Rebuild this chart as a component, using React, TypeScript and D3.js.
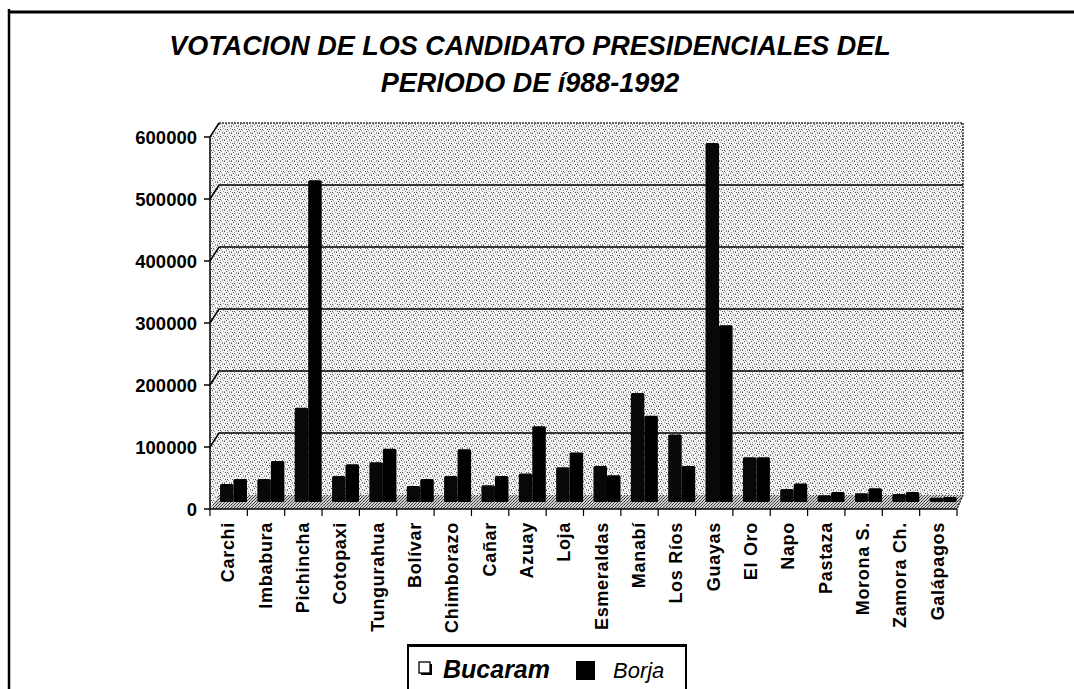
import React from "react";
import * as d3 from "d3";

const provinces = [
  "Carchi", "Imbabura", "Pichincha", "Cotopaxi", "Tungurahua", "Bolívar",
  "Chimborazo", "Cañar", "Azuay", "Loja", "Esmeraldas", "Manabí",
  "Los Ríos", "Guayas", "El Oro", "Napo", "Pastaza", "Morona S.",
  "Zamora Ch.", "Galápagos",
];
const series = ["Bucaram", "Borja"];
const bucaram = [
  29000, 37000, 152000, 42000, 64000, 26000, 42000, 27000, 46000, 56000,
  58000, 176000, 109000, 579000, 72000, 21000, 11000, 14000, 13000, 7000,
];
const borja = [
  37000, 66000, 519000, 61000, 86000, 37000, 85000, 42000, 122000, 80000,
  43000, 139000, 58000, 285000, 72000, 30000, 16000, 22000, 16000, 8000,
];
const yTicks = [0, 100000, 200000, 300000, 400000, 500000, 600000];
const titleLines = [
  "VOTACION DE LOS CANDIDATO PRESIDENCIALES DEL",
  "PERIODO DE í988-1992",
];

const W = 1074;
const H = 689;
const FONT = "'Liberation Sans', Arial, sans-serif";

// 3d depth offset of the back wall
const DX = 9;
const DY = -14;

// stipple dots for the halftone background (pattern cell 7x7)
const dots = [
  [0, 0], [3, 1], [5, 0], [1, 3], [4, 4], [6, 2], [2, 5], [5, 6], [0, 6], [3, 3],
];

export default function App() {
  const x = d3.scaleBand<string>().domain(provinces).range([210, 957]);
  const xs = d3.scaleBand<string>().domain(series).range([0, 27]);
  const yFront = d3.scaleLinear().domain([0, 600000]).range([509, 137]);
  const yBar = d3.scaleLinear().domain([0, 600000]).range([502, 130]);

  const x0 = 210;
  const x1 = 957;
  const top = yFront(600000);
  const base = yFront(0);

  const rows = provinces.map((p, i) => ({ p, vals: [bucaram[i], borja[i]] }));

  return (
    <svg
      width={W}
      height={H}
      style={{ position: "absolute", left: 0, top: 0, background: "#fff" }}
    >
      <defs>
        <pattern id="wall" width="7" height="7" patternUnits="userSpaceOnUse">
          <rect width="7" height="7" fill="#f4f4f4" />
          {dots.map(([a, b], i) => (
            <rect key={i} x={a} y={b} width="1" height="1" fill={i % 3 === 0 ? "#555" : "#999"} />
          ))}
        </pattern>
        <pattern id="floor" width="3" height="3" patternUnits="userSpaceOnUse">
          <rect width="3" height="3" fill="#cfcfcf" />
          <rect x="0" y="0" width="1" height="1" fill="#333" />
          <rect x="2" y="1" width="1" height="1" fill="#555" />
          <rect x="1" y="2" width="1" height="1" fill="#444" />
        </pattern>
      </defs>

      {/* frame */}
      <path d={`M9,${H} V9`} stroke="#000" strokeWidth={2.5} fill="none" />
      <path d={`M8,12 H${W}`} stroke="#000" strokeWidth={3} fill="none" />

      {/* title */}
      {titleLines.map((t, i) => (
        <text
          key={i}
          x={530}
          y={55 + i * 37}
          textAnchor="middle"
          fontFamily={FONT}
          fontWeight="bold"
          fontStyle="italic"
          fontSize={27}
        >
          {t}
        </text>
      ))}

      {/* walls */}
      <polygon
        points={`${x0 + DX},${top + DY} ${x1 + 6},${top + DY} ${x1 + 6},${base + DY} ${x0 + DX},${base + DY}`}
        fill="url(#wall)"
      />
      <polygon
        points={`${x0},${top} ${x0 + DX},${top + DY} ${x0 + DX},${base + DY} ${x0},${base}`}
        fill="url(#wall)"
      />
      <polygon
        points={`${x0},${base} ${x0 + DX},${base + DY} ${x1 + 6},${base + DY} ${x1},${base}`}
        fill="url(#floor)"
      />
      <path
        d={`M${x0 + DX},${top + DY} H${x1 + 6} V${base + DY} L${x1},${base}`}
        stroke="#333"
        strokeWidth={1.5}
        strokeDasharray="2,1"
        fill="none"
      />

      {/* gridlines */}
      {yTicks.slice(1).map((t) => (
        <path
          key={t}
          d={`M${x0},${yFront(t)} L${x0 + DX},${yFront(t) + DY} H${t === 600000 ? x0 + DX : x1 + 6}`}
          stroke="#000"
          strokeWidth={1.5}
          fill="none"
        />
      ))}

      {/* bars */}
      {rows.map((r) => (
        <g key={r.p} transform={`translate(${(x(r.p) ?? 0) + 10},0)`}>
          {r.vals.map((v, j) => (
            <rect
              key={j}
              x={xs(series[j])}
              y={yBar(v)}
              width={xs.bandwidth()}
              height={yBar(0) - yBar(v)}
              rx={1.5}
              fill={j === 0 ? "#080808" : "#000"}
            />
          ))}
        </g>
      ))}

      {/* axes */}
      <path d={`M${x0},${top} V${base} H${x1}`} stroke="#000" strokeWidth={1.5} fill="none" />
      {yTicks.map((t) => (
        <g key={t}>
          <line x1={204} x2={x0} y1={yFront(t)} y2={yFront(t)} stroke="#000" strokeWidth={1.5} />
          <text
            x={197}
            y={yFront(t)}
            dy="0.36em"
            textAnchor="end"
            fontFamily={FONT}
            fontWeight="bold"
            fontSize={18.5}
          >
            {t}
          </text>
        </g>
      ))}
      {provinces.concat([""]).map((p, i) => {
        const px = i < provinces.length ? x(p) ?? 0 : x1;
        return <line key={i} x1={px} x2={px} y1={base} y2={base + 7} stroke="#000" strokeWidth={1.2} />;
      })}
      {provinces.map((p) => (
        <text
          key={p}
          transform={`translate(${(x(p) ?? 0) + x.bandwidth() / 2 - 1},522) rotate(-90)`}
          dy="0.36em"
          textAnchor="end"
          fontFamily={FONT}
          fontWeight="bold"
          fontSize={18}
          letterSpacing={0.7}
        >
          {p}
        </text>
      ))}

      {/* legend */}
      <path d={`M408,${H + 2} V646 H686 V${H + 2}`} stroke="#000" strokeWidth={2} fill="none" />
      <line x1={407} x2={687} y1={645.5} y2={645.5} stroke="#000" strokeWidth={3} />
      <rect x={421} y={664} width={11} height={11} fill="#000" />
      <rect x={419} y={662} width={11} height={11} fill="#fff" stroke="#000" strokeWidth={1.3} />
      <text x={443} y={678} fontFamily={FONT} fontStyle="italic" fontWeight="bold" fontSize={25}>
        Bucaram
      </text>
      <rect x={576} y={661} width={19} height={19} fill="#000" />
      <text x={613} y={678} fontFamily={FONT} fontStyle="italic" fontSize={22}>
        Borja
      </text>
    </svg>
  );
}
